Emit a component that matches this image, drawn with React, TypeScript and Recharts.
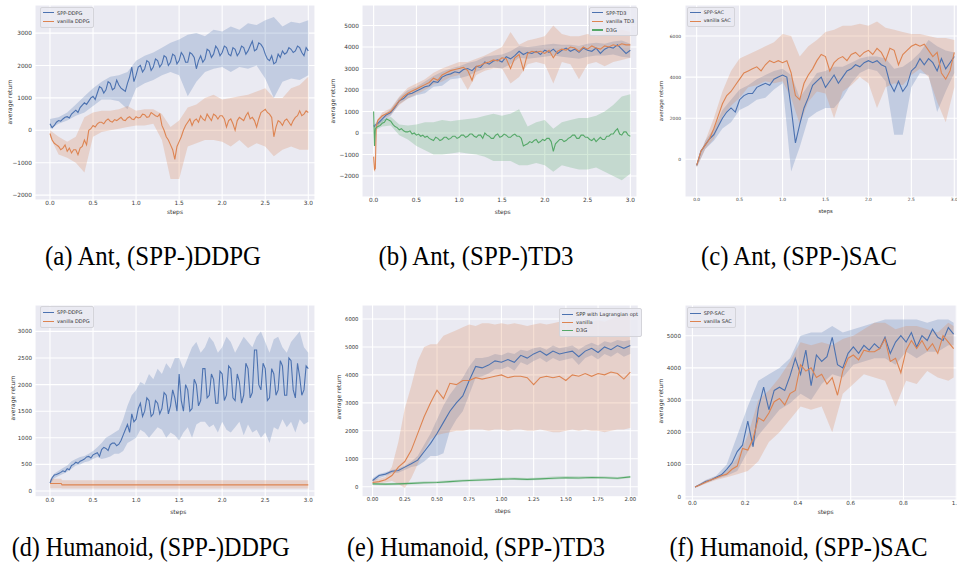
import React from "react";
import { ComposedChart, Line, Area, XAxis, YAxis, CartesianGrid } from "recharts";

// ─── Colours / fonts ──────────────────────────────────────────────────────────

const BLUE = "#4C72B0";
const ORANGE = "#DD8452";
const GREEN = "#55A868";
const FONT = "DejaVu Sans";
const TICK = "#3a3a3a";

// sampling grid of the logged steps (x positions of the curves)
const grid = (start: number, step: number, n: number) =>
  Array.from({ length: n }, (_, i) => Math.round((start + i * step) * 1000) / 1000);

// ─── (a) Ant, DDPG ────────────────────────────────────────────────────────────

const A_STEPS = grid(0, 0.025, 121);
const A_BAND_STEPS = grid(0, 0.1, 31);
const A_SPP = [
  200, 80, 150, 250, 300, 280, 350, 400, 420, 380,
  500, 560, 620, 550, 700, 780, 850, 800, 900, 1000,
  1050, 950, 1150, 1350, 1300, 1150, 1250, 1500, 1450, 1250,
  1300, 1550, 1400, 1300, 1250, 1200, 1450, 1650, 1950, 1500,
  1700, 1950, 2000, 1800, 1900, 2150, 2100, 1850, 1950, 2200,
  2150, 1950, 2050, 2300, 2250, 2000, 2100, 2350, 2300, 2050,
  2150, 2400, 2300, 2100, 2100, 2400, 2350, 2250, 1900, 2150,
  2300, 2100, 2200, 2500, 2450, 2250, 2350, 2600, 2500, 2300,
  2400, 2600, 2550, 2350, 2300, 2550, 2500, 2300, 2400, 2600,
  2550, 2350, 2450, 2600, 2750, 2450, 2500, 2700, 2650, 2550,
  2350, 2200, 2150, 2300, 2050, 2100, 2350, 2250, 2450, 2350,
  2400, 2550, 2500, 2400, 2450, 2600, 2550, 2400, 2300, 2550,
  2450,
];
const A_SPP_HI = [350, 400, 550, 800, 1050, 1300, 1500, 1650, 1700, 1800, 2150, 2300, 2400, 2550, 2700, 2800, 2950, 3000, 2900, 3100, 3050, 3200, 3100, 3300, 3250, 3400, 3500, 3200, 3350, 3300, 3400];
const A_SPP_LO = [50, 200, 300, 450, 550, 750, 950, 950, 900, 650, 1300, 1450, 1550, 1700, 1800, 1700, 1050, 1500, 1800, 1900, 1950, 1800, 1950, 1900, 2000, 1600, 1000, 1500, 1600, 1550, 1700];
const A_VAN = [
  -100, -300, -400, -450, -500, -600, -550, -450, -650, -550,
  -700, -600, -600, -750, -550, -500, -300, -450, 0, 50,
  150, 100, 200, 250, 250, 200, 300, 350, 280, 250,
  330, 300, 350, 400, 320, 300, 380, 420, 350, 330,
  420, 380, 400, 500, 480, 400, 420, 550, 500, 450,
  420, 500, 150, 0, -200, -300, -450, -600, -900, -500,
  -350, -200, 0, 150, 250, 350, 150, 300, 350, 250,
  450, 350, 300, 500, 400, 300, 500, 450, 350, 450,
  450, 350, 100, 300, 350, 200, 0, 300, 400, 350,
  300, 450, 550, 350, 400, 300, 100, 350, 550, 600,
  650, 550, 500, 400, -200, 100, 300, 250, 150, 300,
  350, 250, 150, 300, 400, 450, 600, 450, 500, 600,
  550,
];
const A_VAN_HI = [0, -200, -350, -200, 400, 550, 600, 600, 650, 750, 600, 650, 650, 500, 100, 300, 700, 800, 1000, 1100, 950, 1000, 1050, 1100, 1200, 1300, 1000, 1000, 1300, 1400, 1650];
const A_VAN_LO = [-200, -750, -850, -1000, -1300, -200, -50, 0, 50, 100, 150, 150, 200, -300, -1500, -1500, -500, -400, -300, -300, -350, -500, -300, -550, -400, -500, -800, -600, -500, -600, -600];

// ─── (b) Ant, TD3 ─────────────────────────────────────────────────────────────

const B_STEPS = [0, 0.01, 0.02, 0.03, ...grid(0.05, 0.05, 60)];
const B_D3G_STEPS = [0, 0.01, 0.02, 0.03, ...grid(0.05, 0.025, 119)];
const B_BAND_STEPS = [0, 0.01, 0.02, 0.03, ...grid(0.1, 0.1, 30)];
const B_SPP = [350, 300, 380, 400, 450, 650, 850, 950, 1200, 1500, 1600, 1800, 1850, 1950, 2050, 2150, 2200, 2400, 2350, 2600, 2700, 2750, 2850, 2800, 2950, 3000, 2900, 3100, 3050, 3300, 3200, 3350, 3400, 3300, 3550, 3450, 3600, 3800, 3650, 3750, 3700, 3800, 3650, 3850, 3750, 3900, 3700, 3850, 3950, 3800, 3900, 3750, 3950, 3850, 3800, 3950, 3700, 3900, 4000, 3950, 4100, 3900, 3700, 3850];
const B_SPP_HI = [450, 400, 450, 500, 800, 1100, 1650, 2000, 2150, 2400, 2650, 2850, 3000, 3100, 3250, 3350, 3550, 3600, 3650, 3800, 4050, 4000, 4050, 4100, 4150, 4100, 4100, 4050, 4150, 4200, 4150, 4250, 4300, 4150];
const B_SPP_LO = [250, 200, 300, 300, 500, 800, 1350, 1600, 1750, 1850, 2150, 2200, 2500, 2550, 2650, 2850, 3000, 3050, 3000, 3200, 3500, 3450, 3500, 3550, 3600, 3550, 3500, 3450, 3550, 3600, 3600, 3650, 3550, 3500];
const B_VAN = [-1100, -1700, -1650, 300, 600, 800, 900, 1000, 1250, 1500, 1700, 1850, 1950, 2050, 2150, 2250, 2350, 2550, 2450, 2700, 2800, 2900, 2950, 3000, 3050, 2900, 2450, 3100, 3150, 3250, 3300, 3400, 3350, 3500, 3450, 3000, 3500, 3650, 2950, 3700, 3800, 3750, 3800, 3700, 3850, 3500, 3800, 3900, 3850, 4000, 3950, 3800, 4000, 3900, 4050, 3950, 3900, 4050, 4000, 4100, 4050, 4150, 4100, 4100];
const B_VAN_HI = [-900, -1500, -1400, 500, 950, 1150, 1700, 2100, 2300, 2500, 2800, 3000, 3150, 3300, 3300, 3450, 3600, 3800, 4000, 4700, 4100, 4300, 4400, 4500, 5000, 4600, 4500, 4500, 4600, 4500, 4600, 4700, 4800, 4700];
const B_VAN_LO = [-1300, -1800, -1800, 100, 650, 850, 1300, 1600, 1800, 2000, 2250, 2400, 2600, 2700, 2000, 2700, 2900, 3000, 3000, 2300, 2600, 3200, 3300, 3200, 2300, 3300, 3200, 2500, 3200, 3300, 3100, 3300, 3400, 3500];
const B_D3G = [
  1000, -600, 200, 250,
  300, 350, 450, 500, 650, 600, 550, 400, 300, 250,
  150, 200, 100, 50, 50, 100, -50, 0, -100, -50,
  -150, -100, -200, -150, -250, -300, -350, -200, -250, -350,
  -300, -200, -200, -300, -250, -150, -150, -250, -200, -100,
  -100, -200, -150, -50, -50, -150, -200, -100, -100, -250,
  0, -100, -150, -250, -250, -100, -50, -200, -150, -50,
  -100, -200, -200, -100, -50, -150, -150, -250, -600, -550,
  -500, -400, -450, -350, -300, -450, -400, -300, -350, -250,
  -250, -400, -850, -500, -400, -300, -300, -400, -350, -250,
  -200, -100, -100, -250, -250, -100, -100, -200, -200, -300,
  -350, -250, -400, -300, -200, -300, -300, -150, -150, -50,
  -50, 100, 200, -50, -100, 50, 50, -100, -150,
];
const B_D3G_HI = [1000, -500, 300, 350, 600, 750, 400, 350, 400, 500, 500, 600, 550, 600, 650, 700, 800, 900, 800, 900, 1100, 300, 500, 600, 200, 500, 600, 700, 700, 800, 1000, 1300, 1700, 1800];
const B_D3G_LO = [1000, -700, 100, 150, 300, 350, -100, -300, -600, -800, -1000, -1000, -950, -900, -950, -1000, -1100, -1300, -1300, -1300, -1500, -1500, -1400, -1500, -1800, -1500, -1600, -1700, -1700, -1600, -1800, -2000, -2200, -1900];

// ─── (c) Ant, SAC ─────────────────────────────────────────────────────────────

const C_STEPS = grid(0, 0.05, 61);
const C_BAND_STEPS = grid(0, 0.1, 31);
const C_SPP = [-300, 400, 700, 1000, 1200, 1600, 2000, 2300, 2500, 2300, 2900, 3100, 3200, 3200, 3500, 3600, 3700, 3600, 3900, 4000, 4100, 4000, 2500, 800, 1700, 2500, 3000, 3600, 3800, 4000, 3500, 3800, 4100, 3700, 4000, 4300, 4400, 4600, 4500, 4700, 4800, 4700, 4800, 4600, 4500, 3700, 3300, 3800, 3300, 3600, 4300, 4500, 4900, 4600, 4900, 4700, 4300, 4900, 4400, 4700, 5000];
const C_SPP_HI = [-200, 900, 1500, 2400, 2900, 3400, 3600, 3900, 4100, 4300, 4400, 4100, 3000, 3600, 4200, 4300, 4500, 4500, 4700, 4900, 5000, 5000, 4900, 4400, 4500, 4800, 5200, 5800, 5500, 5300, 5200];
const C_SPP_LO = [-400, 500, 900, 1500, 1800, 2400, 2600, 2900, 3000, 3400, 3700, -600, 600, 2000, 2300, 2500, 2500, 3000, 3700, 4200, 4400, 4300, 3800, 1200, 1200, 3500, 4200, 4100, 2300, 3300, 4200];
const C_VAN = [-300, 400, 700, 1000, 1500, 2100, 2700, 3100, 3300, 3600, 3900, 4200, 4300, 4400, 4500, 4300, 4600, 4800, 4700, 4800, 4700, 4800, 4200, 3100, 2900, 3700, 4100, 4400, 4800, 5100, 5000, 4300, 4700, 4900, 5000, 4800, 5100, 5200, 5000, 5200, 5300, 5100, 5400, 5200, 4800, 5400, 5300, 4600, 5100, 5300, 5500, 5600, 5500, 5600, 5300, 5000, 5200, 4200, 3900, 4300, 5200];
const C_VAN_HI = [-200, 900, 2000, 3300, 4300, 4900, 5100, 5300, 5500, 5700, 6100, 6000, 5000, 5500, 5800, 6200, 6300, 6500, 6500, 6600, 6500, 6700, 6400, 6300, 6200, 6100, 6100, 6000, 5900, 5900, 5800];
const C_VAN_LO = [-400, 500, 1000, 2100, 2600, 3000, 3500, 3600, 3800, 3700, 3800, 3000, 1700, 2800, 3300, 3200, 2000, 3300, 3600, 4000, 3700, 2500, 3500, 3700, 3600, 4100, 4400, 4000, 2800, 1800, 3500];

// ─── (d) Humanoid, DDPG ───────────────────────────────────────────────────────

const D_STEPS = grid(0, 0.025, 121);
const D_BAND_STEPS = grid(0, 0.05, 61);
const D_SPP = [
  150, 250, 300, 310, 330, 350, 380, 360, 420, 400,
  480, 500, 540, 520, 560, 580, 600, 640, 650, 620,
  680, 700, 720, 650, 780, 820, 800, 760, 870, 900,
  900, 850, 880, 950, 1050, 1150, 1250, 1100, 1450, 1300,
  1350, 1550, 1650, 1400, 1500, 1750, 1700, 1400, 1450, 1700,
  1650, 1450, 1550, 1850, 1800, 1450, 1600, 1900, 1750, 1500,
  2200, 1700, 1500, 2000, 1900, 1500, 1550, 2100, 2000, 1600,
  1700, 2300, 2300, 1750, 1800, 2200, 2100, 1650, 1650, 2250,
  2200, 1700, 1800, 2350, 2300, 1750, 1700, 2200, 2050, 1650,
  1800, 2400, 2300, 1750, 1850, 2650, 2650, 2000, 1900, 2400,
  2300, 1700, 1750, 2300, 2200, 1800, 1900, 2450, 2350, 1800,
  1800, 2500, 2450, 1900, 1750, 2400, 2150, 1800, 1900, 2350,
  2300,
];
const D_SPP_HI = [
  200, 330, 380, 430, 480, 560, 600, 640, 660, 700,
  750, 820, 900, 1000, 1050, 1100, 1150, 1350, 1600, 1800,
  1900, 2050, 2000, 2200, 2100, 2300, 2200, 2400, 2300, 2500,
  2500, 2300, 2500, 2700, 2800, 2600, 2700, 2900, 2800, 2600,
  2700, 2900, 2800, 2600, 2750, 2900, 2800, 2700, 2900, 3000,
  2800, 2600, 2850, 2900, 2700, 2600, 2800, 2900, 3000, 2700,
  2600,
];
const D_SPP_LO = [
  120, 240, 280, 320, 360, 420, 480, 500, 540, 560,
  600, 640, 600, 620, 650, 700, 700, 750, 900, 950,
  1000, 1150, 1100, 1000, 1100, 1200, 1150, 1000, 1100, 1050,
  950, 1100, 1200, 1000, 1250, 1300, 1300, 1200, 1250, 1100,
  1300, 1150, 1100, 1200, 1300, 1050, 1250, 1100, 1150, 1000,
  1100, 900, 1200, 1150, 1350, 1200, 1300, 1100, 1350, 1250,
  1300,
];
const D_VAN_STEPS = [0, 0.13, 0.14, 3.0];
const D_VAN = [140, 140, 115, 115];
const D_VAN_HI = [230, 230, 200, 200];
const D_VAN_LO = [50, 50, 45, 45];

// ─── (e) Humanoid, TD3 ────────────────────────────────────────────────────────

const E_STEPS = grid(0, 0.05, 41);
const E_D3G_STEPS = grid(0, 0.1, 21);
const E_SPP = [220, 400, 450, 550, 580, 700, 820, 950, 1250, 1550, 1900, 2300, 2700, 3000, 3250, 3800, 4300, 4250, 4350, 4500, 4450, 4550, 4450, 4700, 4600, 4750, 4850, 4700, 4850, 4750, 4800, 4850, 4650, 4850, 4950, 4800, 5000, 4900, 5050, 4950, 5050];
const E_SPP_HI = [300, 450, 520, 600, 650, 750, 900, 1100, 1500, 1900, 2400, 2900, 3300, 3600, 3900, 4300, 4600, 4600, 4650, 4750, 4700, 4800, 4750, 4900, 4850, 4950, 5000, 4900, 5050, 4950, 5000, 5050, 4900, 5050, 5150, 5050, 5200, 5150, 5250, 5200, 5250];
const E_SPP_LO = [150, 300, 380, 480, 500, 600, 700, 750, 900, 1100, 1100, 1200, 2000, 2400, 2700, 3300, 3900, 3950, 4050, 4200, 4200, 4300, 4150, 4450, 4350, 4500, 4600, 4450, 4600, 4500, 4550, 4600, 4350, 4600, 4700, 4550, 4750, 4650, 4800, 4650, 4750];
const E_VAN = [150, 180, 250, 400, 700, 900, 1300, 1900, 2500, 3000, 3450, 3150, 3700, 3650, 3800, 3800, 3900, 3850, 3900, 3950, 4000, 3900, 3950, 3950, 3900, 3650, 3900, 3950, 3900, 3950, 3800, 4000, 3950, 4050, 3950, 4050, 4000, 4100, 4050, 3850, 4100];
const E_VAN_HI = [250, 280, 350, 700, 1600, 2800, 3600, 4500, 5000, 5100, 5100, 5400, 5500, 5600, 5700, 5800, 5750, 5850, 5850, 5800, 5850, 5800, 5850, 5800, 5750, 5800, 5850, 5800, 5850, 5900, 5850, 5900, 5850, 5900, 5900, 5950, 5900, 6000, 6100, 6150, 6100];
const E_VAN_LO = [100, 120, 150, 200, 100, -50, 300, 800, 1300, 1700, 1850, 1900, 1950, 2000, 2000, 2050, 2050, 2050, 2000, 2050, 2050, 2000, 2050, 2050, 2000, 2000, 2050, 2000, 1950, 1950, 2000, 2050, 2000, 2050, 2000, 2000, 1950, 2000, 2050, 2050, 2100];
const E_D3G = [100, 90, 100, 120, 140, 150, 180, 210, 230, 250, 270, 280, 260, 280, 300, 320, 310, 330, 320, 300, 350];
const E_D3G_HI = [140, 130, 140, 160, 190, 200, 230, 260, 280, 300, 320, 330, 310, 330, 360, 380, 370, 380, 370, 350, 390];
const E_D3G_LO = [60, 50, 60, 80, 100, 110, 140, 170, 190, 210, 230, 240, 220, 240, 260, 280, 270, 290, 280, 260, 310];

// ─── (f) Humanoid, SAC ────────────────────────────────────────────────────────

const F_STEPS = grid(0.01, 0.02, 50);
const F_BAND_STEPS = [...grid(0.01, 0.04, 25), 0.99];
const F_SPP = [300, 380, 470, 520, 600, 680, 850, 1050, 1400, 1600, 2350, 1550, 2750, 3400, 2700, 3300, 3400, 3300, 3750, 4300, 3800, 4550, 3450, 4400, 4200, 4350, 4950, 4100, 4000, 4450, 4650, 4450, 4700, 4550, 4750, 4600, 4950, 4450, 4800, 5000, 4800, 5100, 4650, 5000, 4850, 5200, 4950, 4850, 5250, 5050];
const F_SPP_HI = [320, 520, 650, 1000, 1900, 2800, 3600, 3800, 4000, 4300, 5000, 5100, 5100, 5300, 5100, 5200, 5300, 5400, 5500, 5500, 5500, 5500, 5400, 5500, 5500, 5400];
const F_SPP_LO = [280, 420, 550, 650, 800, 1400, 1900, 2300, 2700, 2900, 3200, 3000, 3500, 3800, 3700, 4100, 4200, 4300, 4300, 4100, 4500, 4300, 4500, 4500, 4700, 4700];
const F_VAN = [300, 370, 450, 520, 580, 650, 700, 850, 950, 1500, 1450, 1800, 2450, 2350, 2600, 2950, 3050, 2850, 3200, 3300, 4100, 3900, 4000, 3700, 3800, 3500, 3700, 3150, 3900, 4300, 4400, 4250, 4550, 4500, 4500, 4600, 4900, 4200, 4300, 3850, 4550, 4850, 4600, 4850, 4550, 4750, 4450, 5000, 4800, 4600];
const F_VAN_HI = [320, 500, 630, 800, 1200, 1900, 3000, 3300, 3700, 4200, 4800, 4700, 4800, 4700, 4900, 5000, 5200, 5400, 5400, 5200, 5300, 5300, 5200, 5100, 5400, 5300];
const F_VAN_LO = [270, 400, 520, 600, 700, 800, 1100, 1700, 2000, 2400, 2800, 2700, 2800, 2000, 3200, 3500, 3800, 3700, 3600, 2800, 3600, 3500, 3900, 3700, 3600, 3700];

// ─── Tick labels ──────────────────────────────────────────────────────────────

const X_TICKS_3 = [0, 0.5, 1, 1.5, 2, 2.5, 3];
const X_TICKS_2 = [0, 0.25, 0.5, 0.75, 1, 1.25, 1.5, 1.75, 2];
const X_TICKS_1 = [0, 0.2, 0.4, 0.6, 0.8, 1];
const Y_TICKS_A = [-2000, -1000, 0, 1000, 2000, 3000];
const Y_TICKS_B = [-2000, -1000, 0, 1000, 2000, 3000, 4000, 5000];
const Y_TICKS_C = [0, 2000, 4000, 6000];
const Y_TICKS_D = [0, 500, 1000, 1500, 2000, 2500, 3000];
const Y_TICKS_E = [0, 1000, 2000, 3000, 4000, 5000, 6000];
const Y_TICKS_F = [0, 1000, 2000, 3000, 4000, 5000];

const CAPTIONS = [
  "(a) Ant, (SPP-)DDPG",
  "(b) Ant, (SPP-)TD3",
  "(c) Ant, (SPP-)SAC",
  "(d) Humanoid, (SPP-)DDPG",
  "(e) Humanoid, (SPP-)TD3",
  "(f) Humanoid, (SPP-)SAC",
];

// ─── Types ────────────────────────────────────────────────────────────────────

type Series = {
  name: string;
  color: string;
  steps: number[];
  mean: number[];
  bandSteps: number[];
  lo: number[];
  hi: number[];
};

type PanelCfg = {
  left: number;
  top: number;
  w: number;
  h: number;
  xDomain: [number, number];
  yDomain: [number, number];
  xTicks: number[];
  yTicks: number[];
  xDigits: number;
  tickFont: number;
  yGap: number;
  labelFont: number;
  legendFont: number;
  legend: { x: number; y: number; rowH: number };
  stepsAt: [number, number];
  returnAt: [number, number];
  series: Series[];
};

const s = (name: string, color: string, steps: number[], mean: number[], bandSteps: number[], lo: number[], hi: number[]): Series => ({
  name, color, steps, mean, bandSteps, lo, hi,
});

const PANELS: PanelCfg[] = [
  {
    left: 35, top: 5, w: 280, h: 195,
    xDomain: [-0.174, 3.078], yDomain: [-2151, 3867],
    xTicks: X_TICKS_3, yTicks: Y_TICKS_A, xDigits: 1,
    tickFont: 5.8, yGap: 3, labelFont: 6, legendFont: 5,
    legend: { x: 40, y: 6.5, rowH: 8.6 },
    stepsAt: [175, 211.5], returnAt: [9.5, 102],
    series: [
      s("SPP-DDPG", BLUE, A_STEPS, A_SPP, A_BAND_STEPS, A_SPP_LO, A_SPP_HI),
      s("vanilla DDPG", ORANGE, A_STEPS, A_VAN, A_BAND_STEPS, A_VAN_LO, A_VAN_HI),
    ],
  },
  {
    left: 361.7, top: 5, w: 275, h: 192,
    xDomain: [-0.136, 3.078], yDomain: [-2977, 5953],
    xTicks: X_TICKS_3, yTicks: Y_TICKS_B, xDigits: 1,
    tickFont: 5.8, yGap: 3, labelFont: 6, legendFont: 5,
    legend: { x: 589, y: 6.5, rowH: 8.6 },
    stepsAt: [502.7, 211.5], returnAt: [332.7, 101],
    series: [
      s("SPP-TD3", BLUE, B_STEPS, B_SPP, B_BAND_STEPS, B_SPP_LO, B_SPP_HI),
      s("vanilla TD3", ORANGE, B_STEPS, B_VAN, B_BAND_STEPS, B_VAN_LO, B_VAN_HI),
      s("D3G", GREEN, B_D3G_STEPS, B_D3G, B_BAND_STEPS, B_D3G_LO, B_D3G_HI),
    ],
  },
  {
    left: 685, top: 5, w: 276, h: 192,
    xDomain: [-0.136, 3.078], yDomain: [-1835, 7508],
    xTicks: X_TICKS_3, yTicks: Y_TICKS_C, xDigits: 1,
    tickFont: 4.4, yGap: 4, labelFont: 5.4, legendFont: 4.8,
    legend: { x: 686.7, y: 6.5, rowH: 8.4 },
    stepsAt: [825.7, 211.5], returnAt: [662.3, 101],
    series: [
      s("SPP-SAC", BLUE, C_STEPS, C_SPP, C_BAND_STEPS, C_SPP_LO, C_SPP_HI),
      s("vanilla SAC", ORANGE, C_STEPS, C_VAN, C_BAND_STEPS, C_VAN_LO, C_VAN_HI),
    ],
  },
  {
    left: 35, top: 305, w: 280, h: 191.7,
    xDomain: [-0.174, 3.078], yDomain: [-107, 3496],
    xTicks: X_TICKS_3, yTicks: Y_TICKS_D, xDigits: 1,
    tickFont: 5.6, yGap: 3, labelFont: 6, legendFont: 5,
    legend: { x: 40, y: 306.3, rowH: 9 },
    stepsAt: [178.3, 511.5], returnAt: [13.3, 398],
    series: [
      s("SPP-DDPG", BLUE, D_STEPS, D_SPP, D_BAND_STEPS, D_SPP_LO, D_SPP_HI),
      s("vanilla DDPG", ORANGE, D_VAN_STEPS, D_VAN, D_VAN_STEPS, D_VAN_LO, D_VAN_HI),
    ],
  },
  {
    left: 361.7, top: 305, w: 276.3, h: 191.7,
    xDomain: [-0.082, 2.062], yDomain: [-358, 6500],
    xTicks: X_TICKS_2, yTicks: Y_TICKS_E, xDigits: 2,
    tickFont: 5.3, yGap: 3.5, labelFont: 6, legendFont: 5.1,
    legend: { x: 559, y: 308, rowH: 8.2 },
    stepsAt: [502.7, 510.7], returnAt: [339.3, 396.7],
    series: [
      s("SPP with Lagrangian opt", BLUE, E_STEPS, E_SPP, E_STEPS, E_SPP_LO, E_SPP_HI),
      s("vanilla", ORANGE, E_STEPS, E_VAN, E_STEPS, E_VAN_LO, E_VAN_HI),
      s("D3G", GREEN, E_D3G_STEPS, E_D3G, E_D3G_STEPS, E_D3G_LO, E_D3G_HI),
    ],
  },
  {
    left: 685, top: 305, w: 276, h: 195,
    xDomain: [-0.028, 1.018], yDomain: [-103, 5953],
    xTicks: X_TICKS_1, yTicks: Y_TICKS_F, xDigits: 1,
    tickFont: 5.6, yGap: 4, labelFont: 6, legendFont: 5,
    legend: { x: 686.7, y: 307, rowH: 8.4 },
    stepsAt: [825.7, 512.3], returnAt: [660.7, 401],
    series: [
      s("SPP-SAC", BLUE, F_STEPS, F_SPP, F_BAND_STEPS, F_SPP_LO, F_SPP_HI),
      s("vanilla SAC", ORANGE, F_STEPS, F_VAN, F_BAND_STEPS, F_VAN_LO, F_VAN_HI),
    ],
  },
];

// caption layout: left x, baseline y, text width
const CAPTION_POS = [
  { x: 45, y: 264.5, w: 216 },
  { x: 378.5, y: 264.5, w: 195 },
  { x: 701, y: 264.5, w: 196 },
  { x: 11.7, y: 555.5, w: 278 },
  { x: 347, y: 555.5, w: 258 },
  { x: 669.5, y: 555.5, w: 258 },
];

const fmtY = (v: number) => (v < 0 ? `\u2212${Math.abs(v)}` : String(v));

// ─── Legend ───────────────────────────────────────────────────────────────────

function LegendBox({ p }: { p: PanelCfg }) {
  return (
    <div
      style={{
        position: "absolute",
        left: p.legend.x,
        top: p.legend.y,
        padding: "1px 3px 1px 2px",
        background: "rgba(234,234,242,0.85)",
        border: "0.6px solid #d4d4da",
        borderRadius: 2,
        fontFamily: FONT,
        fontSize: p.legendFont,
        color: "#333",
        lineHeight: `${p.legend.rowH}px`,
      }}
    >
      {p.series.map((sr) => (
        <div key={sr.name} style={{ display: "flex", alignItems: "center", whiteSpace: "nowrap" }}>
          <span style={{ display: "inline-block", width: 11, height: 1.2, background: sr.color, marginRight: 3 }} />
          {sr.name}
        </div>
      ))}
    </div>
  );
}

// ─── Panel ────────────────────────────────────────────────────────────────────

const YW = 30;
const XH = 12;

function Panel({ p }: { p: PanelCfg }) {
  const tick = { fontSize: p.tickFont, fill: TICK, fontFamily: FONT };
  const labelStyle: React.CSSProperties = {
    position: "absolute",
    fontFamily: FONT,
    fontSize: p.labelFont,
    color: "#333",
    whiteSpace: "nowrap",
    lineHeight: 1,
  };
  return (
    <>
      <div style={{ position: "absolute", left: p.left - YW, top: p.top }}>
        <ComposedChart width={YW + p.w} height={p.h + XH} margin={{ top: 0, right: 0, bottom: 0, left: 0 }}>
          <CartesianGrid fill="#EAEAF2" stroke="#ffffff" strokeWidth={1.1} />
          <XAxis
            type="number"
            dataKey="x"
            domain={p.xDomain}
            ticks={p.xTicks}
            allowDataOverflow
            interval={0}
            height={XH}
            axisLine={false}
            tickLine={false}
            tickSize={0}
            tickMargin={1}
            tick={tick}
            tickFormatter={(v: number) => v.toFixed(p.xDigits)}
          />
          <YAxis
            type="number"
            domain={p.yDomain}
            ticks={p.yTicks}
            allowDataOverflow
            interval={0}
            width={YW}
            axisLine={false}
            tickLine={false}
            tickSize={0}
            tickMargin={p.yGap}
            tick={tick}
            tickFormatter={fmtY}
          />
          {p.series.map((sr) => (
            <Area
              key={`band-${sr.name}`}
              data={sr.bandSteps.map((x, i) => ({ x, band: [sr.lo[i], sr.hi[i]] }))}
              dataKey="band"
              type="linear"
              stroke="none"
              fill={sr.color}
              fillOpacity={0.25}
              isAnimationActive={false}
            />
          ))}
          {p.series.map((sr) => (
            <Line
              key={`line-${sr.name}`}
              data={sr.steps.map((x, i) => ({ x, y: sr.mean[i] }))}
              dataKey="y"
              type="linear"
              stroke={sr.color}
              strokeWidth={1.1}
              dot={false}
              isAnimationActive={false}
            />
          ))}
        </ComposedChart>
      </div>
      <LegendBox p={p} />
      <div style={{ ...labelStyle, left: p.stepsAt[0], top: p.stepsAt[1], transform: "translate(-50%,-50%)" }}>steps</div>
      <div style={{ ...labelStyle, left: p.returnAt[0], top: p.returnAt[1], transform: "translate(-50%,-50%) rotate(-90deg)" }}>
        average return
      </div>
    </>
  );
}

// ─── App ──────────────────────────────────────────────────────────────────────

export default function App() {
  return (
    <div
      style={{
        position: "fixed",
        left: 0,
        top: 0,
        width: 957,
        height: 567,
        overflow: "hidden",
        background: "#fff",
      }}
    >
      <svg width={957} height={567} style={{ position: "absolute", left: 0, top: 0 }}>
        {CAPTIONS.map((text, i) => (
          <text
            key={text}
            x={CAPTION_POS[i].x}
            y={CAPTION_POS[i].y}
            textLength={CAPTION_POS[i].w}
            lengthAdjust="spacingAndGlyphs"
            fontFamily="Liberation Serif"
            fontSize={27}
            fill="#000"
          >
            {text}
          </text>
        ))}
      </svg>
      {PANELS.map((p, i) => (
        <Panel key={i} p={p} />
      ))}
    </div>
  );
}
